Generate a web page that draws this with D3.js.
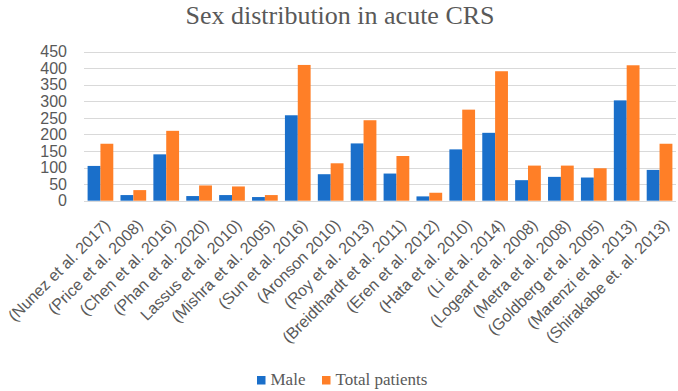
<!DOCTYPE html>
<html><head><meta charset="utf-8">
<script src="https://cdn.jsdelivr.net/npm/d3@7"></script>
<style>body{margin:0;background:#fff}svg{display:block}</style>
</head><body>
<svg id="chart" width="678" height="391"></svg>
<script>
const categories = ["(Nunez et al. 2017)","(Price et al. 2008)","(Chen et al. 2016)","(Phan et al. 2020)","Lassus et al. 2010)","(Mishra et al. 2005)","(Sun et al. 2016)","(Aronson 2010)","(Roy et al. 2013)","(Breidthardt et al. 2011)","(Eren et al. 2012)","(Hata et al. 2010)","(Li et al. 2014)","(Logeart et al. 2008)","(Metra et al. 2008)","(Goldberg et al. 2005)","(Marenzi et al. 2013)","(Shirakabe et. al. 2013)"];
const male = [105,17,140,14,17,11,258,80,173,82,13,155,205,62,72,70,303,93];
const total = [172,32,211,46,43,17,410,113,243,135,24,275,391,106,106,98,409,172];
const seriesNames = ["Male","Total patients"];
const yTicks = [0,50,100,150,200,250,300,350,400,450];
const colors = ["#1a6fca","#ff7f27"];

const svg = d3.select("#chart");
const x = d3.scaleBand().domain(categories).range([84, 676]).paddingInner(0).paddingOuter(0);
const x1 = d3.scaleBand().domain(seriesNames).range([0, x.bandwidth()]).paddingInner(0).paddingOuter(0.28);
const y = d3.scaleLinear().domain([0,450]).range([200.7, 51.7]);
const sans = "'Liberation Sans', Arial, sans-serif";
const serif = "'Liberation Serif', 'Times New Roman', serif";

// grid
svg.append("g").selectAll("line").data(yTicks).join("line")
  .attr("x1",84).attr("x2",676)
  .attr("y1",d=>Math.round(y(d))+0.5).attr("y2",d=>Math.round(y(d))+0.5)
  .attr("stroke","#d9d9d9").attr("stroke-width",1);

// y axis labels
const yAxis = d3.axisLeft(y).tickValues(yTicks).tickSize(0).tickPadding(0);
const ya = svg.append("g").attr("transform","translate(67,0)").call(yAxis);
ya.select(".domain").remove();
ya.selectAll("text").attr("fill","#595959").style("font-family",sans).style("font-size","16px");

// bars
const data = categories.map((c,i)=>({c, vals:[male[i], total[i]]}));
const g = svg.append("g").selectAll("g").data(data).join("g")
  .attr("transform",d=>`translate(${x(d.c)},0)`);
g.selectAll("rect").data(d=>d.vals.map((v,k)=>({k,v}))).join("rect")
  .attr("x",d=>x1(seriesNames[d.k]))
  .attr("width",x1.bandwidth())
  .attr("y",d=>y(d.v))
  .attr("height",d=>y(0)-y(d.v))
  .attr("fill",d=>colors[d.k]);

// x axis labels
const xAxis = d3.axisBottom(x).tickSize(0).tickPadding(0);
const xa = svg.append("g").attr("transform","translate(10.5,226)").call(xAxis);
xa.select(".domain").remove();
xa.selectAll("text")
  .attr("fill","#595959")
  .style("font-family",sans).style("font-size","16px")
  .attr("text-anchor","end")
  .attr("dy","0").attr("dx","0").attr("y",0).attr("x",0)
  .attr("transform","rotate(-45)");

// title
svg.append("text").attr("x",340).attr("y",24).attr("text-anchor","middle")
  .attr("fill","#595959").style("font-family",serif).style("font-size","26px")
  .text("Sex distribution in acute CRS");

// legend
const items = [{n:"Male",x:257},{n:"Total patients",x:322}];
items.forEach((it,k)=>{
  svg.append("rect").attr("x",it.x).attr("y",376).attr("width",8.5).attr("height",8.5).attr("fill",colors[k]);
  svg.append("text").attr("x",it.x+13.5).attr("y",385).attr("fill","#595959")
    .style("font-family",serif).style("font-size","17px").text(it.n);
});
</script>
</body></html>
